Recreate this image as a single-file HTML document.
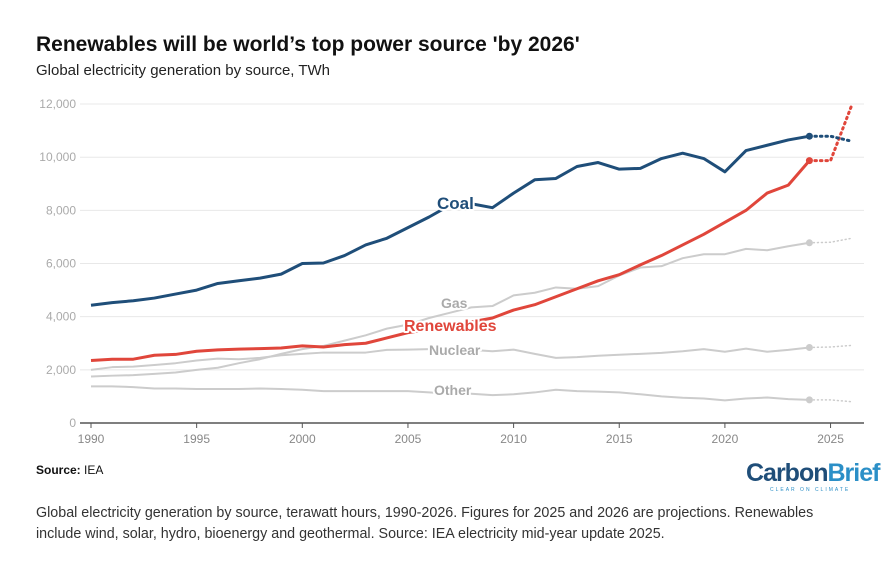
<!DOCTYPE html>
<html><head><meta charset="utf-8"><style>
body{margin:0;background:#fff;width:885px;height:564px;overflow:hidden;font-family:"Liberation Sans",sans-serif}
</style></head><body>
<svg id="s" width="885" height="564" xmlns="http://www.w3.org/2000/svg" style="position:absolute;left:0;top:0">
<text x="36" y="51" font-size="21" font-weight="bold" fill="#111">Renewables will be world’s top power source 'by 2026'</text>
<text x="36" y="75" font-size="15" fill="#222">Global electricity generation by source, TWh</text>
<g id="grid"></g>
<g id="lines"></g>
<g font-size="12" fill="#aaa" text-anchor="end" id="yl"></g>
<line x1="80" y1="423" x2="864" y2="423" stroke="#555" stroke-width="1.5"/>
<g id="xt" font-size="12" fill="#888" text-anchor="middle"></g>
<g font-weight="bold" stroke="#fff" stroke-width="4" paint-order="stroke" stroke-linejoin="round">
<text x="437" y="209" font-size="17" fill="#1f4e79">Coal</text>
<text x="441" y="308" font-size="14" fill="#aaa">Gas</text>
<text x="404" y="331" font-size="16" fill="#e0463b">Renewables</text>
<text x="429" y="355" font-size="14" fill="#aaa">Nuclear</text>
<text x="434" y="395" font-size="14" fill="#aaa">Other</text>
</g>
<text x="36" y="474" font-size="12" fill="#111"><tspan font-weight="bold">Source:</tspan> IEA</text>
<text x="746" y="481" font-size="25" font-weight="bold" fill="#1f4e79" letter-spacing="-1">Carbon<tspan fill="#2b8fc7">Brief</tspan></text>
<text x="770" y="491" font-size="5" fill="#2b8fc7" letter-spacing="2">CLEAR ON CLIMATE</text>
<text x="36" y="517" font-size="14.3" fill="#333">Global electricity generation by source, terawatt hours, 1990-2026. Figures for 2025 and 2026 are projections. Renewables</text>
<text x="36" y="538" font-size="14.3" fill="#333">include wind, solar, hydro, bioenergy and geothermal. Source: IEA electricity mid-year update 2025.</text>
</svg>
<script>
var X=y=>91+21.13*(y-1990),Y=v=>423-v*0.02658,ns="http://www.w3.org/2000/svg";
function el(p,t,a){var e=document.createElementNS(ns,t);for(var k in a)e.setAttribute(k,a[k]);document.getElementById(p).appendChild(e);return e}
for(var v=2000;v<=12000;v+=2000){el("grid","line",{x1:80,x2:864,y1:Y(v),y2:Y(v),stroke:"#e8e8e8"});}
for(var v=0;v<=12000;v+=2000){el("yl","text",{x:76,y:Y(v)+4}).textContent=v.toLocaleString("en-US");}
for(var y=1990;y<=2025;y+=5){el("xt","line",{x1:X(y),x2:X(y),y1:423,y2:428,stroke:"#555"});el("xt","text",{x:X(y),y:443}).textContent=y;}
var D={
coal:[4430,4530,4600,4700,4850,5000,5250,5350,5450,5600,6000,6020,6300,6700,6950,7350,7750,8200,8250,8100,8650,9150,9200,9650,9800,9550,9580,9950,10150,9950,9450,10250,10450,10650,10790,10790,10600],
ren:[2350,2400,2400,2550,2580,2700,2750,2780,2800,2820,2900,2860,2950,3000,3200,3400,3520,3700,3800,3950,4250,4450,4750,5050,5350,5580,5950,6300,6700,7100,7550,8000,8650,8950,9870,9870,11950],
gas:[1750,1780,1800,1850,1900,2000,2080,2250,2400,2600,2780,2900,3100,3300,3550,3700,3950,4150,4350,4400,4800,4900,5100,5050,5150,5550,5850,5900,6200,6350,6350,6550,6500,6650,6780,6800,6950],
nuc:[2000,2100,2120,2180,2250,2350,2420,2400,2450,2550,2600,2650,2650,2650,2750,2760,2780,2780,2750,2700,2760,2600,2450,2480,2530,2570,2600,2640,2700,2780,2680,2800,2680,2750,2840,2860,2920],
oth:[1380,1380,1350,1300,1300,1280,1280,1280,1300,1280,1250,1200,1200,1200,1200,1200,1150,1100,1100,1050,1080,1150,1250,1200,1180,1150,1080,1000,950,920,850,920,960,900,870,870,800]};
function draw(a,c,w,dw,dot){var p="",q="";for(var i=0;i<=34;i++)p+=(i?"L":"M")+X(1990+i)+","+Y(a[i]);
for(var i=34;i<=36;i++)q+=(i>34?"L":"M")+X(1990+i)+","+Y(a[i]);
el("lines","path",{d:p,fill:"none",stroke:c,"stroke-width":w,"stroke-linejoin":"round"});
el("lines","path",{d:q,fill:"none",stroke:c,"stroke-width":dw,"stroke-dasharray":dw>2?"1.5 4":"1 3","stroke-linecap":"round"});
el("lines","circle",{cx:X(2024),cy:Y(a[34]),r:dot,fill:c});}
draw(D.oth,"#ccc",2,1.5,3.5);draw(D.nuc,"#ccc",2,1.5,3.5);draw(D.gas,"#ccc",2,1.5,3.5);
draw(D.ren,"#e0463b",3,3,3.5);draw(D.coal,"#1f4e79",3,3,3.5);
</script>
</body></html>
